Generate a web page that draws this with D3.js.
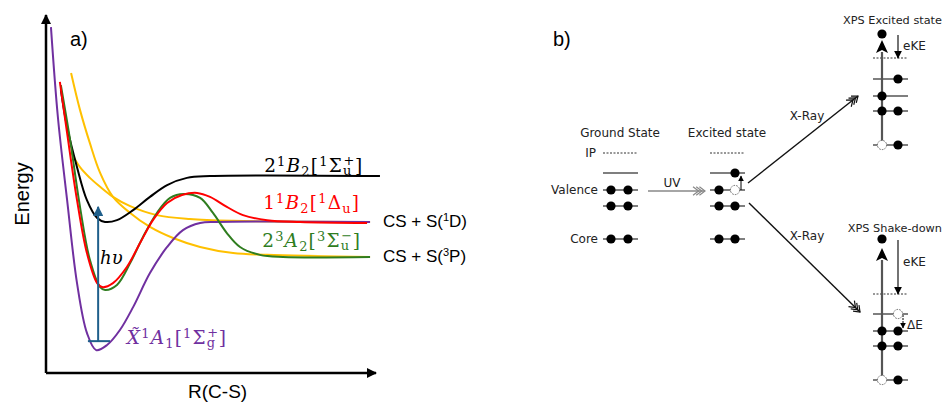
<!DOCTYPE html>
<meta charset="utf-8">
<script src="https://d3js.org/d3.v7.min.js"></script>
<style>
  body { margin: 0; background: #fff; }
  svg text { font-family: "DejaVu Sans", sans-serif; }
</style>
<div id="chart"></div>
<script>
// ---------------- panel a data (R and Energy in arbitrary units, 0-10) ----------------
var groundX   = [[0.15,9.66],[0.36,7.15],[0.64,4.83],[0.94,2.51],[1.24,1.12],[1.52,0.64],[1.85,0.78],[2.24,1.20],[2.64,1.84],[3.15,2.79],[3.67,3.52],[4.15,3.99],[4.67,4.19],[5.18,4.22],[9.82,4.22]];
var state21B2 = [[0.45,7.91],[0.64,6.87],[0.94,5.75],[1.24,4.83],[1.55,4.33],[1.79,4.22],[2.15,4.27],[2.64,4.55],[3.15,4.92],[3.67,5.25],[4.27,5.45],[4.97,5.50],[10.12,5.50]];
var state11B2 = [[0.42,8.13],[0.64,6.70],[0.94,4.83],[1.24,3.35],[1.55,2.51],[1.70,2.40],[2.03,2.51],[2.45,2.96],[2.85,3.63],[3.24,4.27],[3.67,4.75],[4.12,4.97],[4.58,5.03],[4.97,4.92],[5.48,4.64],[5.97,4.41],[6.70,4.27],[7.70,4.22],[9.73,4.19]];
var state23A2 = [[0.45,8.04],[0.73,6.51],[1.03,4.64],[1.33,3.16],[1.64,2.40],[1.79,2.32],[2.15,2.46],[2.55,3.07],[2.94,3.80],[3.36,4.47],[3.76,4.89],[4.18,5.00],[4.67,4.89],[5.06,4.47],[5.48,3.91],[5.88,3.52],[6.48,3.30],[7.18,3.24],[9.82,3.24]];
var repulsive3P = [[0.76,8.38],[1.03,7.35],[1.33,6.42],[1.64,5.59],[2.03,4.92],[2.55,4.47],[3.15,4.08],[3.85,3.77],[4.67,3.52],[5.67,3.35],[6.70,3.30],[9.82,3.24]];
var repulsive1D = [[0.76,6.17],[1.03,5.75],[1.33,5.45],[1.64,5.20],[2.03,4.92],[2.55,4.66],[3.36,4.41],[4.36,4.30],[5.67,4.25],[9.82,4.22]];

var curves = [
  { pts: repulsive3P, color: "#ffc000" },
  { pts: repulsive1D, color: "#ffc000" },
  { pts: groundX,     color: "#7030a0" },
  { pts: state21B2,   color: "#000000" },
  { pts: state23A2,   color: "#2f7d1f" },
  { pts: state11B2,   color: "#ff0000" }
];

// excitation arrow: R position, base width, E from/to
var hvArrow = { R: 1.58, R0: 1.27, R1: 1.94, E0: 0.89, E1: 4.64 };

var stateLabels = [
  { R: 6.61, E: 5.61, color: "#000000",
    parts: [["2","n"],["1","sup"],["B","i"],["2","sub"],["[","n"],["1","sup"],["Σ","n"],[["u","+"],"ss"],["]","n"]] },
  { R: 6.58, E: 4.58, color: "#ff0000",
    parts: [["1","n"],["1","sup"],["B","i"],["2","sub"],["[","n"],["1","sup"],["Δ","n"],["u","sub"],["]","n"]] },
  { R: 6.55, E: 3.52, color: "#2f7d1f",
    parts: [["2","n"],["3","sup"],["A","i"],["2","sub"],["[","n"],["3","sup"],["Σ","n"],[["u","−"],"ss"],["]","n"]] },
  { R: 2.45, E: 0.81, color: "#7030a0",
    parts: [["X\u0303","i"],["1","sup"],["A","i"],["1","sub"],["[","n"],["1","sup"],["Σ","n"],[["g","+"],"ss"],["]","n"]] }
];
var asymptotes = [
  { R: 10.21, E: 4.08, text: "CS + S(", sup: "1", tail: "D)" },
  { R: 10.21, E: 3.10, text: "CS + S(", sup: "3", tail: "P)" }
];

// ---------------- panel b data (diagram units = px) ----------------
var columns = [
  { title: "Ground State", tx: 620, ty: 137, x0: 603, x1: 638, dots: [611, 628],
    levels: [[153,"dash",0,0],[173,"line",0,0],[190,"line",1,1],[206,"line",1,1],[239,"line",1,1]] },
  { title: "Excited state", tx: 727, ty: 137, x0: 710, x1: 745, dots: [719, 735],
    levels: [[153,"dash",0,0],[173,"line",0,1],[190,"line",1,2],[206,"line",1,1],[239,"line",1,1]] },
  { title: "XPS Excited state", tx: 942, ty: 24, anchor: "end", x0: 873, x1: 908, dots: [882, 898],
    levels: [[58,"dash",0,0],[79,"line",0,1],[96,"line",1,0],[111,"line",1,1],[145,"line",2,1]] },
  { title: "XPS Shake-down", tx: 942, ty: 232, anchor: "end", x0: 873, x1: 908, dots: [882, 898],
    levels: [[294,"dash",0,0],[314,"line",0,2],[331,"line",1,1],[346,"line",1,1],[380,"line",2,1]] }
];
var levelNames = [["IP", 596, 157], ["Valence", 598, 194], ["Core", 598, 243]];
var beams = [
  { from: [648,191], to: [705,191], label: "UV",    lx: 672, ly: 187, color: "#888" },
  { from: [748,183], to: [858,96],  label: "X-Ray", lx: 807, ly: 120, color: "#111" },
  { from: [749,203], to: [860,312], label: "X-Ray", lx: 807, ly: 240, color: "#111" }
];
var ionise = [ { x: 882, dot: 34, tip: 40, bottom: 145 }, { x: 882, dot: 239, tip: 248, bottom: 380 } ];
var eKE = [ { x: 898, y0: 35, y1: 58, ty: 50 }, { x: 898, y0: 240, y1: 294, ty: 266 } ];

var W = 944, H = 403;
var svg = d3.select("#chart").append("svg").attr("width", W).attr("height", H);

var defs = svg.append("defs");
function marker(id, color, size) {
  defs.append("marker").attr("id", id).attr("viewBox", "0 0 10 10")
    .attr("refX", 9).attr("refY", 5).attr("markerUnits", "userSpaceOnUse")
    .attr("markerWidth", size).attr("markerHeight", size).attr("orient", "auto")
    .append("path").attr("d", "M0,0 L10,5 L0,10 z").attr("fill", color);
}
marker("axArrow", "#000", 10);
marker("hvArrow", "#1f5f8b", 10);
marker("smArrow", "#000", 8);
marker("tinyArrow", "#000", 6);

// ---------------- panel a ----------------
var x = d3.scaleLinear().domain([0, 10]).range([46, 376]);
var y = d3.scaleLinear().domain([0, 10]).range([373, 15]);

var pa = svg.append("g");
pa.append("line").attr("x1", x(0)).attr("y1", y(0)).attr("x2", x(0)).attr("y2", y(10))
  .attr("stroke", "#000").attr("stroke-width", 2.5).attr("marker-end", "url(#axArrow)");
pa.append("line").attr("x1", x(0)).attr("y1", y(0)).attr("x2", x(10)).attr("y2", y(0))
  .attr("stroke", "#000").attr("stroke-width", 2.5).attr("marker-end", "url(#axArrow)");

var line = d3.line().x(function(d) { return x(d[0]); }).y(function(d) { return y(d[1]); })
  .curve(d3.curveCatmullRom.alpha(0.5));
pa.selectAll("path.pes").data(curves).enter().append("path").attr("class", "pes")
  .attr("d", function(d) { return line(d.pts); })
  .attr("fill", "none").attr("stroke", function(d) { return d.color; })
  .attr("stroke-width", 2);

// h-nu arrow
pa.append("line").attr("x1", x(hvArrow.R0)).attr("x2", x(hvArrow.R1))
  .attr("y1", y(hvArrow.E0)).attr("y2", y(hvArrow.E0))
  .attr("stroke", "#1f5f8b").attr("stroke-width", 2);
pa.append("line").attr("x1", x(hvArrow.R)).attr("x2", x(hvArrow.R))
  .attr("y1", y(hvArrow.E0)).attr("y2", y(hvArrow.E1))
  .attr("stroke", "#1f5f8b").attr("stroke-width", 2).attr("marker-end", "url(#hvArrow)");
pa.append("text").attr("x", x(1.64)).attr("y", y(3.04))
  .style("font-family", "DejaVu Serif").style("font-style", "italic").style("font-size", "18px")
  .text("hυ");

// one <text> per label, tspans placed at measured x positions
function mathLabel(g, px, py, parts, size, gap) {
  var cx = px, small = size * 0.7;
  var t = g.append("text").style("font-family", "DejaVu Serif");
  parts.forEach(function(p) {
    var kind = p[1], w;
    if (kind === "ss") {
      var a = t.append("tspan").attr("x", cx).attr("y", py + 3).style("font-size", small + "px").text(p[0][0]);
      var b = t.append("tspan").attr("x", cx + 0.5).attr("y", py - 7).style("font-size", small + "px").text(p[0][1]);
      w = Math.max(a.node().getComputedTextLength(), b.node().getComputedTextLength());
    } else {
      var s = t.append("tspan").attr("x", cx)
        .attr("y", kind === "sup" ? py - 6 : kind === "sub" ? py + 4 : py)
        .style("font-size", (kind === "sup" || kind === "sub" ? small : size) + "px")
        .style("font-style", kind === "i" ? "italic" : "normal")
        .text(p[0]);
      w = s.node().getComputedTextLength();
    }
    cx += w + gap;
  });
}
stateLabels.forEach(function(l) {
  var g = pa.append("g").attr("fill", l.color);
  mathLabel(g, x(l.R), y(l.E), l.parts, 18.5, 1.2);
});

asymptotes.forEach(function(a) {
  var t = pa.append("text").attr("x", x(a.R)).attr("y", y(a.E))
    .style("font-family", "Liberation Sans").style("font-size", "17px").attr("fill", "#000");
  t.append("tspan").text(a.text);
  t.append("tspan").attr("dy", -6).style("font-size", "11px").text(a.sup);
  t.append("tspan").attr("dy", 6).text(a.tail);
});

pa.append("text").attr("x", 70).attr("y", 46).style("font-family", "Liberation Sans").style("font-size", "20px").text("a)");
pa.append("text").attr("transform", "translate(29," + y(5) + ") rotate(-90)").attr("text-anchor", "middle")
  .style("font-family", "Liberation Sans").style("font-size", "20px").text("Energy");
pa.append("text").attr("x", x(5.2)).attr("y", 398).attr("text-anchor", "middle")
  .style("font-family", "Liberation Sans").style("font-size", "19px").text("R(C-S)");

// ---------------- panel b ----------------
var bx = d3.scaleIdentity(), by = d3.scaleIdentity();
var pb = svg.append("g");
pb.append("text").attr("x", 553).attr("y", 46).style("font-family", "Liberation Sans").style("font-size", "20px").text("b)");

function chevrons(g, tip, color) {
  var ang = Math.atan2(tip[1].y - tip[0].y, tip[1].x - tip[0].x);
  for (var k = 0; k < 3; k++) {
    var tx = tip[1].x - Math.cos(ang) * k * 3.2, ty = tip[1].y - Math.sin(ang) * k * 3.2;
    var a1 = ang + Math.PI - 0.65, a2 = ang + Math.PI + 0.65, L = 7;
    g.append("path")
      .attr("d", "M" + (tx + L * Math.cos(a1)) + "," + (ty + L * Math.sin(a1)) + "L" + tx + "," + ty +
                 "L" + (tx + L * Math.cos(a2)) + "," + (ty + L * Math.sin(a2)))
      .attr("fill", "none").attr("stroke", color).attr("stroke-width", 1.2);
  }
}
beams.forEach(function(b) {
  var p0 = { x: bx(b.from[0]), y: by(b.from[1]) }, p1 = { x: bx(b.to[0]), y: by(b.to[1]) };
  pb.append("line").attr("x1", p0.x).attr("y1", p0.y).attr("x2", p1.x).attr("y2", p1.y)
    .attr("stroke", b.color).attr("stroke-width", 1.4);
  chevrons(pb, [p0, p1], b.color);
  pb.append("text").attr("x", bx(b.lx)).attr("y", by(b.ly)).attr("text-anchor", "middle")
    .style("font-size", "12px").attr("fill", "#222").text(b.label);
});

columns.forEach(function(c) {
  pb.append("text").attr("x", bx(c.tx)).attr("y", by(c.ty)).attr("text-anchor", c.anchor || "middle")
    .style("font-size", c.anchor ? "11.3px" : "12px").attr("fill", "#222").text(c.title);
  c.levels.forEach(function(l) {
    pb.append("line").attr("x1", bx(c.x0)).attr("x2", bx(c.x1)).attr("y1", by(l[0])).attr("y2", by(l[0]))
      .attr("stroke", l[1] === "dash" ? "#333" : "#555").attr("stroke-width", l[1] === "dash" ? 1 : 1.6)
      .attr("stroke-dasharray", l[1] === "dash" ? "2,1.5" : null);
  });
});

// ionisation paths in XPS columns
ionise.forEach(function(v) {
  pb.append("line").attr("x1", bx(v.x)).attr("x2", bx(v.x)).attr("y1", by(v.bottom)).attr("y2", by(v.tip) + 12)
    .attr("stroke", "#555").attr("stroke-width", 2.2);
  pb.append("path").attr("d", "M" + bx(v.x) + "," + by(v.tip) + "l-6,13 l6,-3 l6,3z").attr("fill", "#000");
  pb.append("circle").attr("cx", bx(v.x)).attr("cy", by(v.dot)).attr("r", 4.6).attr("fill", "#000");
});
eKE.forEach(function(e) {
  pb.append("line").attr("x1", bx(e.x)).attr("x2", bx(e.x)).attr("y1", by(e.y0)).attr("y2", by(e.y1))
    .attr("stroke", "#000").attr("stroke-width", 1.1).attr("marker-end", "url(#smArrow)");
  pb.append("text").attr("x", bx(e.x) + 5).attr("y", by(e.ty)).style("font-size", "12px").attr("fill", "#222").text("eKE");
});
// small promotion arrow (excited column) and shake-down arrow
pb.append("line").attr("x1", bx(741)).attr("x2", bx(741)).attr("y1", by(190)).attr("y2", by(176))
  .attr("stroke", "#000").attr("stroke-width", 1).attr("marker-end", "url(#tinyArrow)");
pb.append("line").attr("x1", bx(903)).attr("x2", bx(903)).attr("y1", by(315)).attr("y2", by(328))
  .attr("stroke", "#000").attr("stroke-width", 1).attr("stroke-dasharray", "2,1").attr("marker-end", "url(#tinyArrow)");
pb.append("text").attr("x", bx(907)).attr("y", by(329)).style("font-size", "12px").attr("fill", "#222").text("ΔE");

// electrons and holes
columns.forEach(function(c) {
  c.levels.forEach(function(l) {
    [l[2], l[3]].forEach(function(s, i) {
      if (!s) return;
      pb.append("circle").attr("cx", bx(c.dots[i])).attr("cy", by(l[0])).attr("r", 4.6)
        .attr("fill", s === 1 ? "#000" : "#fff")
        .attr("stroke", s === 1 ? "none" : "#666").attr("stroke-width", 1)
        .attr("stroke-dasharray", s === 2 ? "1.6,1.2" : null);
    });
  });
});

levelNames.forEach(function(n) {
  pb.append("text").attr("x", bx(n[1])).attr("y", by(n[2])).attr("text-anchor", "end")
    .style("font-size", "12px").attr("fill", "#222").text(n[0]);
});
</script>
